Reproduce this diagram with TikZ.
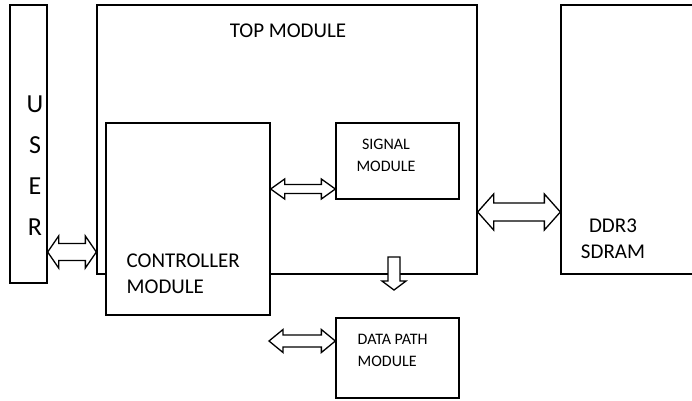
\documentclass[tikz,border=0pt]{standalone}
\usepackage{fontspec}
\setmainfont{Carlito}
\usetikzlibrary{calc}

\newcommand{\dblarrow}[5]{%
  \draw[fill=white] (#1) -- ++(#5,#3) -- ++(0,#4-#3) -- ($(#2)+(-#5,#4)$)
    -- ++(0,#3-#4) -- (#2) -- ++(-#5,-#3) -- ++(0,#3-#4)
    -- ($(#1)+(#5,-#4)$) -- ++(0,#4-#3) -- cycle;}

\tikzset{
  blk/.style={draw, rectangle, inner sep=0pt},
  lbl/.style={inner sep=0pt, font=\fontsize{21}{26}\selectfont},
  small/.style={inner sep=0pt, font=\fontsize{16}{22.5}\selectfont}
}

\begin{document}
\begin{tikzpicture}[x=1pt, y=-1pt, line width=1.3pt]
    \useasboundingbox (0,0) rectangle (692,400);

    \node[blk, minimum width=380pt, minimum height=269pt] (top) at (287,139.5) {};
    \node[blk, fill=white, minimum width=164pt, minimum height=192pt] (ctrl) at (188,219) {};
    \node[blk, minimum width=123pt, minimum height=76pt] (sig) at (397.5,161) {};
    \node[blk, minimum width=123pt, minimum height=80pt] (dp) at (397.5,358) {};
    \node[blk, minimum width=37pt, minimum height=278pt] (user) at (28.5,144) {};
    \node[blk, minimum width=139pt, minimum height=269pt] (ddr) at (630.5,139.5) {};

    \coordinate (ua) at (0,252);
    \coordinate (sa) at (0,189);
    \coordinate (da) at (0,212);
    \coordinate (pa) at (269,341);
    \coordinate (dn) at (394,257);

    \dblarrow{user.east |- ua}{top.west |- ua}{16}{8.5}{11}
    \dblarrow{ctrl.east |- sa}{sig.west |- sa}{10}{4.5}{14}
    \dblarrow{top.east |- da}{ddr.west |- da}{18}{9}{16}
    \dblarrow{pa}{dp.west |- pa}{11.5}{6}{14}
    \draw[fill=white] (dn) -- ++(6,0) -- ++(0,24) -- ++(6,0) -- ++(-12,9)
        -- ++(-12,-9) -- ++(6,0) -- ++(0,-24) -- cycle;

    \node[lbl] (toplbl) at (288,31) {TOP MODULE};
    \node[small, align=center] (siglbl) at (386,155.5) {SIGNAL\\MODULE};
    \node[lbl, anchor=west, align=left] (ctrllbl) at (126,274) {CONTROLLER\\MODULE};
    \node[small, anchor=west, align=left] (dplbl) at (357,350.5) {DATA PATH\\MODULE};
    \node[lbl, align=center] (ddrlbl) at (613,239) {DDR3\\SDRAM};
    \node[inner sep=0pt, font=\fontsize{26}{41}\selectfont, align=center] (userlbl) at (35,166) {U\\S\\E\\R};
\end{tikzpicture}
\end{document}
